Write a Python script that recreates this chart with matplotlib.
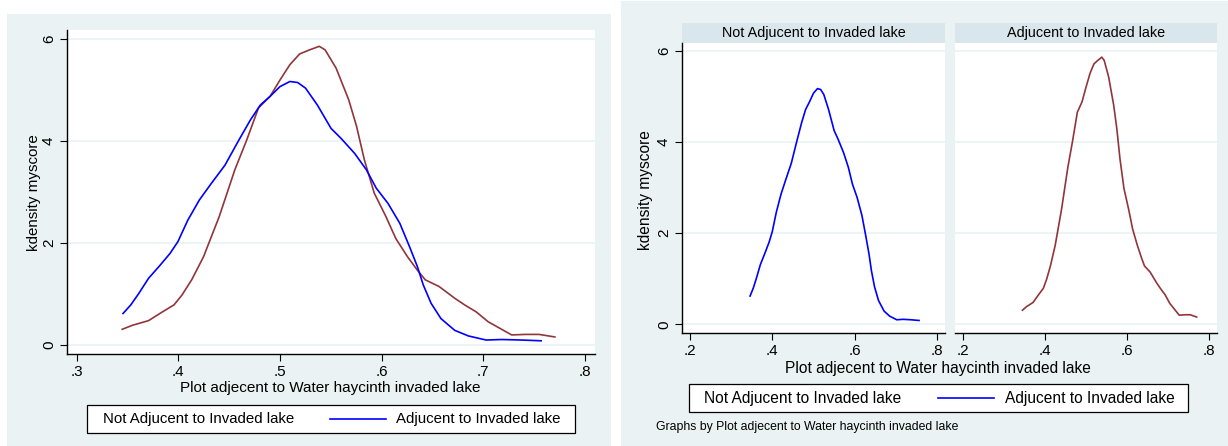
import matplotlib
matplotlib.use("Agg")
import matplotlib.pyplot as plt
from matplotlib.patches import Rectangle
from matplotlib.lines import Line2D

plt.rcParams["font.family"] = ["Liberation Sans", "DejaVu Sans"]

W, H = 1228, 446

# kernel density estimates
adj_x = [0.3448, 0.355, 0.3707, 0.3842, 0.3958, 0.4035, 0.4131, 0.4247, 0.4402,
         0.4556, 0.4672, 0.4788, 0.4903, 0.5, 0.5097, 0.5193, 0.529, 0.5386,
         0.5444, 0.5552, 0.5676, 0.5753, 0.583, 0.5927, 0.6042, 0.6139, 0.6255,
         0.6351, 0.6429, 0.6564, 0.6718, 0.6815, 0.6931, 0.7046, 0.7162, 0.7278,
         0.7413, 0.7548, 0.7703]
adj_y = [0.31, 0.39, 0.48, 0.65, 0.79, 0.98, 1.28, 1.73, 2.52,
         3.44, 4.02, 4.65, 4.88, 5.20, 5.50, 5.71, 5.79, 5.86,
         5.79, 5.43, 4.81, 4.29, 3.63, 2.98, 2.52, 2.09, 1.73,
         1.47, 1.28, 1.15, 0.92, 0.79, 0.65, 0.46, 0.33, 0.20,
         0.21, 0.21, 0.16]

notadj_x = [0.3456, 0.3533, 0.361, 0.3707, 0.3822, 0.3919, 0.3996, 0.4093, 0.4208,
            0.4324, 0.4459, 0.4595, 0.471, 0.4807, 0.4903, 0.5, 0.5097, 0.5174,
            0.5251, 0.5367, 0.5502, 0.5598, 0.5734, 0.5849, 0.5946, 0.6062, 0.6178,
            0.6274, 0.6351, 0.6409, 0.6486, 0.6583, 0.6718, 0.6853, 0.7027, 0.7181,
            0.7375, 0.7568]
notadj_y = [0.62, 0.79, 1.01, 1.31, 1.57, 1.80, 2.03, 2.45, 2.85,
            3.17, 3.53, 4.02, 4.42, 4.71, 4.88, 5.07, 5.17, 5.15,
            5.04, 4.71, 4.25, 4.06, 3.76, 3.44, 3.08, 2.78, 2.39,
            1.93, 1.54, 1.18, 0.82, 0.52, 0.29, 0.18, 0.10, 0.11,
            0.10, 0.085]

left_xticks = [0.3, 0.4, 0.5, 0.6, 0.7, 0.8]
left_xlabels = [".3", ".4", ".5", ".6", ".7", ".8"]
right_xticks = [0.2, 0.4, 0.6, 0.8]
right_xlabels = [".2", ".4", ".6", ".8"]
yticks = [0, 2, 4, 6]
ylabels = ["0", "2", "4", "6"]

panel_titles = ["Not Adjucent to Invaded lake", "Adjucent to Invaded lake"]
legend_labels = ["Not Adjucent to Invaded lake", "Adjucent to Invaded lake"]
xtitle = "Plot adjecent to Water haycinth invaded lake"
ytitle = "kdensity myscore"
note = "Graphs by Plot adjecent to Water haycinth invaded lake"

BG = "#EAF2F3"
STRIP = "#D9E6EB"
GRID = "#EAF2F3"
MAROON = "#90353B"
BLUE = "#0000FF"


def fx(px):
    return px / W


def fy(py):
    return 1 - py / H


def box(x0, y0, x1, y1):
    return [fx(x0), fy(y1), fx(x1) - fx(x0), fy(y0) - fy(y1)]


def add_rect(fig, x0, y0, x1, y1, **kw):
    fig.add_artist(Rectangle((fx(x0), fy(y1)), fx(x1) - fx(x0), fy(y0) - fy(y1),
                             transform=fig.transFigure, **kw))


def style_axes(ax, xticks, xlabels, ylim, show_y=True):
    ax.set_ylim(*ylim)
    ax.set_xticks(xticks, xlabels)
    ax.set_yticks(yticks, ylabels)
    ax.grid(axis="y", color=GRID, lw=1.2)
    ax.set_axisbelow(True)
    for s in ["top", "right"]:
        ax.spines[s].set_visible(False)
    ax.spines["bottom"].set_linewidth(1.0)
    ax.spines["left"].set_linewidth(1.0)
    ax.tick_params(axis="x", length=5, width=0.8, labelsize=11, pad=3)
    ax.tick_params(axis="y", length=5, width=0.8, labelsize=11, pad=3,
                   labelrotation=90)
    for lab in ax.get_yticklabels():
        lab.set_va("center")
    if not show_y:
        ax.spines["left"].set_visible(False)
        ax.tick_params(axis="y", length=0, labelleft=False)


def legend(fig, x0, y0, x1, y1, text_x, line_x0, line_x1, text2_x, size):
    add_rect(fig, x0, y0, x1, y1, facecolor="white", edgecolor="black", lw=0.9)
    yc = (y0 + y1) / 2
    fig.text(fx(text_x), fy(yc), legend_labels[0], fontsize=size, va="center", ha="left")
    fig.add_artist(Line2D([fx(line_x0), fx(line_x1)], [fy(yc), fy(yc)],
                          color=BLUE, lw=1.2, transform=fig.transFigure))
    fig.text(fx(text2_x), fy(yc), legend_labels[1], fontsize=size, va="center", ha="left")


fig = plt.figure(figsize=(W / 100, H / 100), dpi=100)

# ---- left graph: both densities overlaid ----
add_rect(fig, 7, 14, 611, 446, facecolor=BG, edgecolor="none", zorder=-5)
ax = fig.add_axes(box(67, 30, 595, 354.3))
ax.plot(adj_x, adj_y, color=MAROON, lw=1.2)
ax.plot(notadj_x, notadj_y, color=BLUE, lw=1.2)
ax.set_xlim(0.2905, 0.8098)
style_axes(ax, left_xticks, left_xlabels, (-0.18, 6.18))
fig.text(fx(330), fy(388), xtitle, fontsize=11, ha="center", va="center")
fig.text(fx(34), fy(193), ytitle, fontsize=10.9, ha="center", va="center", rotation=90)
legend(fig, 87, 405, 575, 433, 103, 330, 386, 396, 10.8)

# ---- right graph: by group ----
add_rect(fig, 621, 1, 1228, 446, facecolor=BG, edgecolor="none", zorder=-5)
panels = [(682, 945, notadj_x, notadj_y, BLUE), (955, 1217, adj_x, adj_y, MAROON)]
for i, (x0, x1, xs, ys, col) in enumerate(panels):
    add_rect(fig, x0, 23, x1, 43, facecolor=STRIP, edgecolor="none", zorder=-4)
    fig.text(fx((x0 + x1) / 2), fy(33), panel_titles[i], fontsize=10.4,
             ha="center", va="center")
    a = fig.add_axes(box(x0, 43, x1, 333))
    a.plot(xs, ys, color=col, lw=1.2)
    a.set_xlim(0.18, 0.82)
    style_axes(a, right_xticks, right_xlabels, (-0.19, 6.17), show_y=(i == 0))
fig.text(fx(938), fy(369), xtitle, fontsize=11.2, ha="center", va="center")
fig.text(fx(645.5), fy(190), ytitle, fontsize=11.2, ha="center", va="center", rotation=90)
legend(fig, 688.5, 384, 1188, 412, 704, 937.6, 994, 1005, 11.2)
fig.text(fx(656), fy(427), note, fontsize=8.8, ha="left", va="center")

fig.savefig("out.png", dpi=100)
